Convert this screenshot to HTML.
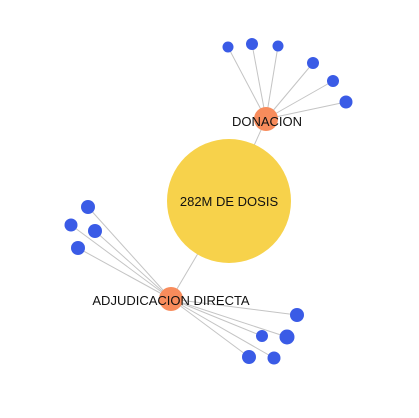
<!DOCTYPE html>
<html><head><meta charset="utf-8"><style>
html,body{margin:0;padding:0;background:#fff;}
svg text{font-family:"Liberation Sans",sans-serif;font-size:13px;fill:#111;}
</style></head><body>
<svg id="chart" width="419" height="413"></svg>
<script>
const centerNode = {label:"282M DE DOSIS", x:229, y:201, r:62};
const groupLabels = ["DONACION","ADJUDICACION DIRECTA"];
const groupPos = [[266,119],[171,299]];
const groupLabelPos = [[267,121],[171,300]];
const leafGroup = [0,0,0,0,0,0,1,1,1,1,1,1,1,1,1];
const leafPos = [[228,47],[252,44],[278,46],[313,63],[333,81],[346,102],
  [88,207],[71,225],[95,231],[78,248],[297,315],[262,336],[287,337],[249,357],[274,358]];
const leafR = [5.5,6,5.5,6,6,6.5,7,6.5,7,7,7,6,7.5,7,6.5];
const NS="http://www.w3.org/2000/svg";
const svg=document.getElementById('chart');
function mk(t,a){const e=document.createElementNS(NS,t);for(const k in a)e.setAttribute(k,a[k]);return e;}
const gl=mk('g',{});


svg.appendChild(gl);
groupPos.forEach((p,i)=>{const l=mk('line',{x1:centerNode.x,y1:centerNode.y,x2:p[0],y2:p[1],stroke:'#c4c4c4','stroke-width':1});


gl.appendChild(l);});
leafPos.forEach((p,i)=>{const g=groupPos[leafGroup[i]];const l=mk('line',{x1:g[0],y1:g[1],x2:p[0],y2:p[1],stroke:'#c4c4c4','stroke-width':1});


gl.appendChild(l);});
const c=mk('circle',{cx:centerNode.x,cy:centerNode.y,r:centerNode.r,fill:'#f7d24b'});


svg.appendChild(c);
groupPos.forEach((p,i)=>{const n=mk('circle',{cx:p[0],cy:p[1],r:12,fill:'#f88c5c'});


svg.appendChild(n);});
leafPos.forEach((p,i)=>{const n=mk('circle',{cx:p[0],cy:p[1],r:leafR[i],fill:'#3a5be6'});


svg.appendChild(n);});
const ct=mk('text',{x:centerNode.x,y:centerNode.y+5,'text-anchor':'middle'});
ct.textContent=centerNode.label;


svg.appendChild(ct);
groupLabels.forEach((s,i)=>{const t=mk('text',{x:groupLabelPos[i][0],y:groupLabelPos[i][1]+5,'text-anchor':'middle'});
t.textContent=s;


svg.appendChild(t);});
</script>
</body></html>
